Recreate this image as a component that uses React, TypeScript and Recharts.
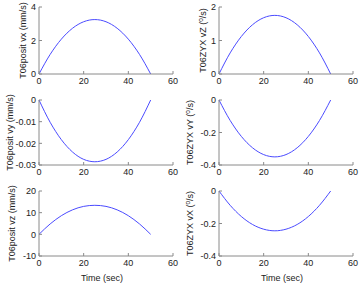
import React from "react";
import { LineChart, Line, XAxis, YAxis } from "recharts";

const time = [0, 5, 10, 15, 20, 25, 30, 35, 40, 45, 50];

const posVx = [0, 1.17, 2.08, 2.73, 3.12, 3.25, 3.12, 2.73, 2.08, 1.17, 0];
const posVy = [0, -0.0103, -0.0183, -0.024, -0.0274, -0.0285, -0.0274, -0.024, -0.0183, -0.0103, 0];
const posVz = [0, 4.8, 8.6, 11.3, 12.9, 13.4, 12.9, 11.3, 8.6, 4.8, 0];
const rotVZ = [0, 0.63, 1.12, 1.47, 1.68, 1.75, 1.68, 1.47, 1.12, 0.63, 0];
const rotVY = [0, -0.126, -0.224, -0.294, -0.336, -0.35, -0.336, -0.294, -0.224, -0.126, 0];
const rotVX = [0, -0.088, -0.157, -0.206, -0.235, -0.245, -0.235, -0.206, -0.157, -0.088, 0];

const xTicks = [0, 20, 40, 60];

const FONT = "'Liberation Sans', Arial, sans-serif";
const GRAY = "#8a8a8a";
const BLUE = "#4b4bff";

interface Panel {
  name: string;
  unit: "mm" | "deg";
  values: number[];
  domain: [number, number];
  ticks: number[];
  col: number;
  row: number;
}

const panels: Panel[] = [
  { name: "T06posit vx", unit: "mm", values: posVx, domain: [0, 4], ticks: [0, 2, 4], col: 0, row: 0 },
  { name: "T06ZYX vZ", unit: "deg", values: rotVZ, domain: [0, 2], ticks: [0, 1, 2], col: 1, row: 0 },
  { name: "T06posit vy", unit: "mm", values: posVy, domain: [-0.03, 0], ticks: [-0.03, -0.02, -0.01, 0], col: 0, row: 1 },
  { name: "T06ZYX vY", unit: "deg", values: rotVY, domain: [-0.4, 0], ticks: [-0.4, -0.2, 0], col: 1, row: 1 },
  { name: "T06posit vz", unit: "mm", values: posVz, domain: [-10, 20], ticks: [-10, 0, 10, 20], col: 0, row: 2 },
  { name: "T06ZYX vX", unit: "deg", values: rotVX, domain: [-0.4, 0], ticks: [-0.4, -0.2, 0], col: 1, row: 2 },
];

const colLeft = [0, 180];
const colWidth = [180, 179];
const colRight = [7, 6];
const rowTop = [7, 100, 191];
const rowBottom = [74, 165, 256];
// y-label centre, per row then column
const labelX = [
  [23, 23],
  [10, 10],
  [12, 10],
];
const Y_W = 39;
const M_TOP = 7;

function SubPlot({ p }: { p: Panel }) {
  const data = time.map((t, i) => ({ t, v: p.values[i] }));
  const plotH = rowBottom[p.row] - rowTop[p.row];
  const last = p.row === 2;
  const xH = last ? 28 : 18;
  const width = colWidth[p.col];
  const height = M_TOP + plotH + xH;
  const cy = M_TOP + plotH / 2;
  const lx = labelX[p.row][p.col];
  const plotMid = Y_W + (width - Y_W - colRight[p.col]) / 2;

  const yLabel = () => (
    <text
      x={lx}
      y={cy}
      transform={`rotate(-90 ${lx} ${cy})`}
      textAnchor="middle"
      dominantBaseline="central"
      fontFamily={FONT}
      fontSize={9}
      fill="#222"
    >
      {p.unit === "mm" ? (
        `${p.name} (mm/s)`
      ) : (
        <>
          {`${p.name} (`}
          <tspan fontSize={6.5} dy={-3}>o</tspan>
          <tspan dy={3}>/s)</tspan>
        </>
      )}
    </text>
  );

  const xLabel = () => (
    <text x={plotMid - 4} y={height - 6} textAnchor="middle" dominantBaseline="central" fontFamily={FONT} fontSize={9} fill="#222">
      Time (sec)
    </text>
  );

  const tickStyle = { fontSize: 9, fontFamily: FONT, fill: "#222" };

  return (
    <div style={{ position: "absolute", left: colLeft[p.col], top: rowTop[p.row] - M_TOP }}>
      <LineChart width={width} height={height} data={data} margin={{ top: M_TOP, right: colRight[p.col], left: 0, bottom: 0 }}>
        <XAxis
          dataKey="t"
          type="number"
          domain={[0, 60]}
          ticks={xTicks}
          interval={0}
          height={xH}
          tick={tickStyle}
          tickSize={-3}
          tickMargin={7}
          axisLine={{ stroke: GRAY }}
          tickLine={{ stroke: GRAY }}
          label={last ? xLabel : undefined}
        />
        <XAxis
          xAxisId="t"
          dataKey="t"
          type="number"
          orientation="top"
          domain={[0, 60]}
          ticks={xTicks}
          interval={0}
          height={0}
          tick={false}
          tickSize={-3}
          axisLine={{ stroke: GRAY }}
          tickLine={{ stroke: GRAY }}
        />
        <YAxis
          type="number"
          domain={p.domain}
          ticks={p.ticks}
          interval={0}
          width={Y_W}
          tick={tickStyle}
          tickSize={-3}
          tickMargin={6}
          axisLine={{ stroke: GRAY }}
          tickLine={{ stroke: GRAY }}
          label={yLabel}
        />
        <YAxis
          yAxisId="r"
          type="number"
          orientation="right"
          domain={p.domain}
          ticks={p.ticks}
          interval={0}
          width={0}
          tick={false}
          tickSize={-3}
          axisLine={{ stroke: GRAY }}
          tickLine={{ stroke: GRAY }}
        />
        <Line type="monotone" dataKey="v" stroke={BLUE} strokeWidth={1} dot={false} isAnimationActive={false} />
      </LineChart>
    </div>
  );
}

export default function App() {
  return (
    <div style={{ position: "absolute", left: 0, top: 0, width: 359, height: 284, background: "#fff" }}>
      {panels.map((p) => (
        <SubPlot key={p.name} p={p} />
      ))}
    </div>
  );
}
